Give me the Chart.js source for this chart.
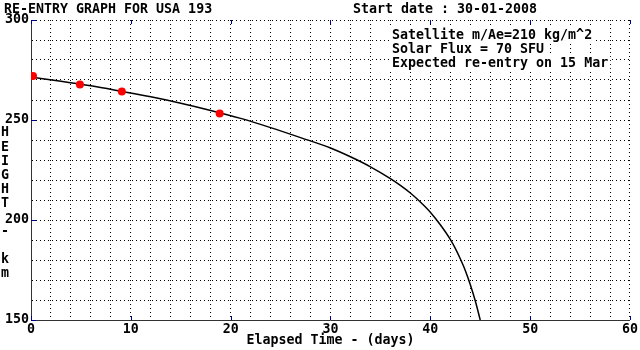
<!DOCTYPE html>
<html>
<head>
<meta charset="utf-8">
<title>Re-entry graph USA 193</title>
<script src="https://cdn.jsdelivr.net/npm/chart.js@4"></script>
<style>
  html, body { margin: 0; padding: 0; background: #fff; }
  canvas { display: block; }
</style>
</head>
<body>
<canvas id="reentry" width="640" height="350"></canvas>
<script>
// predicted decay curve (days since start, height km)
var curveDays   = [0, 3, 6, 9, 12, 15, 18, 21, 24, 27, 30, 32, 34, 36, 37, 38, 39, 40, 41, 42, 42.5, 43, 43.5, 44, 44.5, 45];
var curveHeight = [271.5, 269.4, 267.1, 264.4, 261.6, 258.4, 254.8, 250.8, 246.2, 241.2, 236.0, 231.6, 226.6, 220.7, 217.3, 213.5, 209.0, 203.9, 197.6, 190.3, 185.8, 180.6, 174.8, 167.8, 159.6, 150.0];

// observed heights (red points)
var obsDays   = [0.2, 4.9, 9.1, 18.9];
var obsHeight = [272.0, 267.8, 264.3, 253.3];

var xTicks = [0, 10, 20, 30, 40, 50, 60];
var yTicks = [150, 200, 250, 300];

var titleText = 'RE-ENTRY GRAPH FOR USA 193';
var startText = 'Start date : 30-01-2008';
var noteLines = ['Satellite m/Ae=210 kg/m^2', 'Solar Flux = 70 SFU', 'Expected re-entry on 15 Mar'];
var yTitle = 'HEIGHT - km';
var xTitle = 'Elapsed Time - (days)';

var FONT = 'bold 13.3px "DejaVu Sans Mono", "Liberation Mono", monospace';
var tickFont = { family: '"DejaVu Sans Mono", "Liberation Mono", monospace', size: 13.3, weight: 'bold' };

function pts(xs, ys) {
    var out = [];
    for (var i = 0; i < xs.length; i++) out.push({ x: xs[i], y: ys[i] });
    return out;
}

// texts + blue major ticks
var decor = {
    id: 'decor',
    afterDraw: function (chart) {
        var c = chart.ctx, a = chart.chartArea, sx = chart.scales.x, sy = chart.scales.y;
        c.save();

        // blue ticks on the inside of the frame
        c.strokeStyle = '#000090'; c.lineWidth = 1;
        c.beginPath();
        xTicks.forEach(function (v) {
            var px = Math.round(sx.getPixelForValue(v)) + 0.5;
            c.moveTo(px, a.bottom); c.lineTo(px, a.bottom - 4);
            c.moveTo(px, a.top); c.lineTo(px, a.top + 4);
        });
        yTicks.forEach(function (v) {
            var py = Math.round(sy.getPixelForValue(v)) + 0.5;
            c.moveTo(a.left, py); c.lineTo(a.left + 5, py);
        });
        c.stroke();

        c.font = FONT; c.fillStyle = '#000'; c.textBaseline = 'alphabetic'; c.textAlign = 'left';
        c.fillText(titleText, 4, 13);
        c.fillText(startText, 353, 13);

        // note box, white behind each line
        noteLines.forEach(function (t, i) {
            var by = 39 + i * 14;
            var w = c.measureText(t).width;
            c.fillStyle = '#fff';
            c.fillRect(390, by - 11, w + 4, 14);
            c.fillStyle = '#000';
            c.fillText(t, 392, by);
        });

        // vertical y title, one letter per row
        c.textAlign = 'center'; c.textBaseline = 'middle';
        for (var i = 0; i < yTitle.length; i++) {
            if (yTitle[i] !== ' ') c.fillText(yTitle[i], 5, 133 + i * 14.1);
        }
        c.fillText(xTitle, (a.left + a.right) / 2, 341);
        c.restore();
    }
};

var chart = new Chart(document.getElementById('reentry'), {
    type: 'line',
    data: {
        datasets: [
            { data: pts(obsDays, obsHeight), showLine: false, pointRadius: 4, pointStyle: 'circle',
              backgroundColor: '#ff0000', borderColor: '#ff0000', borderWidth: 0, order: 1 },
            { data: pts(curveDays, curveHeight), borderColor: '#000', borderWidth: 1.5, pointRadius: 0,
              cubicInterpolationMode: 'monotone', fill: false, order: 2 }
        ]
    },
    options: {
        responsive: false, animation: false, devicePixelRatio: 1,
        layout: { padding: { top: 20, right: 9, left: 0, bottom: 0 } },
        plugins: { legend: { display: false }, tooltip: { enabled: false } },
        scales: {
            x: {
                type: 'linear', min: 0, max: 60,
                ticks: { stepSize: 2, autoSkip: false, maxRotation: 0, padding: 2, color: '#000', font: tickFont,
                         callback: function (v) { return v % 10 === 0 ? v : ''; } },
                grid: { color: '#000', lineWidth: 1, drawTicks: false },
                border: { display: true, color: '#333', width: 1, dash: [1, 3] },
                afterFit: function (s) { s.height = 30; }
            },
            y: {
                type: 'linear', min: 150, max: 300,
                ticks: { stepSize: 10, autoSkip: false, padding: 2, color: '#000', font: tickFont,
                         callback: function (v) { return v % 50 === 0 ? v : ''; } },
                grid: { color: '#000', lineWidth: 1, drawTicks: false },
                border: { display: true, color: '#333', width: 1, dash: [1, 3] },
                afterFit: function (s) { s.width = 31; }
            }
        }
    },
    plugins: [decor]
});
</script>
</body>
</html>
